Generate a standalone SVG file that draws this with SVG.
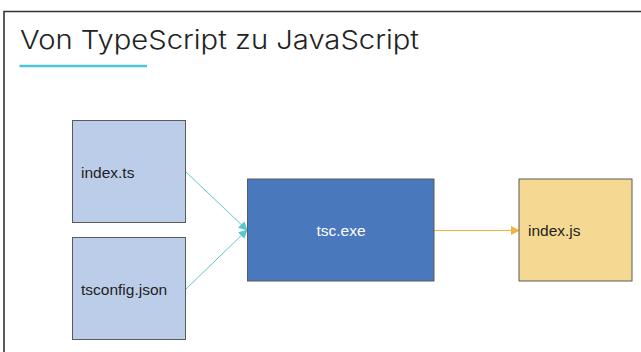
<svg xmlns="http://www.w3.org/2000/svg" width="641" height="352" viewBox="0 0 641 352">
<style>
.lbl{font-family:"Liberation Sans",Arial,sans-serif;font-size:15.5px;fill:#222}
.box{stroke:#5a5a5a;stroke-width:1}
.in{fill:#bccde9}
</style>
<defs>
<marker id="at" viewBox="0 0 10 10" refX="9" refY="5" markerWidth="9" markerHeight="9" markerUnits="userSpaceOnUse" orient="auto"><path d="M0,0 L10,5 L0,10 z" fill="#5cc6d0"/></marker>
<marker id="ao" viewBox="0 0 10 10" refX="9" refY="5" markerWidth="9" markerHeight="9" markerUnits="userSpaceOnUse" orient="auto"><path d="M0,0 L10,5 L0,10 z" fill="#efb440"/></marker>
</defs>
<rect width="641" height="352" fill="#fff"/>
<path d="M4,352 V11.5 H641" fill="none" stroke="#333" stroke-width="1.6"/>
<text x="20" y="49" font-family="Inter,'DejaVu Sans',sans-serif" font-size="26" font-weight="300" fill="#222" textLength="399" lengthAdjust="spacingAndGlyphs">Von TypeScript zu JavaScript</text>
<line x1="19.5" y1="66" x2="147" y2="66" stroke="#4cc5d4" stroke-width="2.5"/>
<g id="connectors">
<line x1="186" y1="172" x2="247" y2="230" stroke="#5cc6d0" stroke-width="1" marker-end="url(#at)"/>
<line x1="186" y1="289" x2="247" y2="230" stroke="#5cc6d0" stroke-width="1" marker-end="url(#at)"/>
<line x1="434" y1="230.5" x2="519" y2="230.5" stroke="#efb440" stroke-width="1" marker-end="url(#ao)"/>
</g>
<g id="index-ts"><rect class="box in" x="72.5" y="120.5" width="113" height="102"/><text class="lbl" x="81" y="177.5">index.ts</text></g>
<g id="tsconfig"><rect class="box in" x="72.5" y="237.5" width="113" height="102"/><text class="lbl" x="81" y="294.5">tsconfig.json</text></g>
<g id="tsc"><rect class="box" x="247.5" y="179" width="186.5" height="102" fill="#4a78bd"/><text class="lbl" x="341" y="236" text-anchor="middle" style="fill:#fff">tsc.exe</text></g>
<g id="index-js"><rect class="box" x="519" y="179" width="113" height="102" fill="#f5d992"/><text class="lbl" x="528" y="236">index.js</text></g>
</svg>
